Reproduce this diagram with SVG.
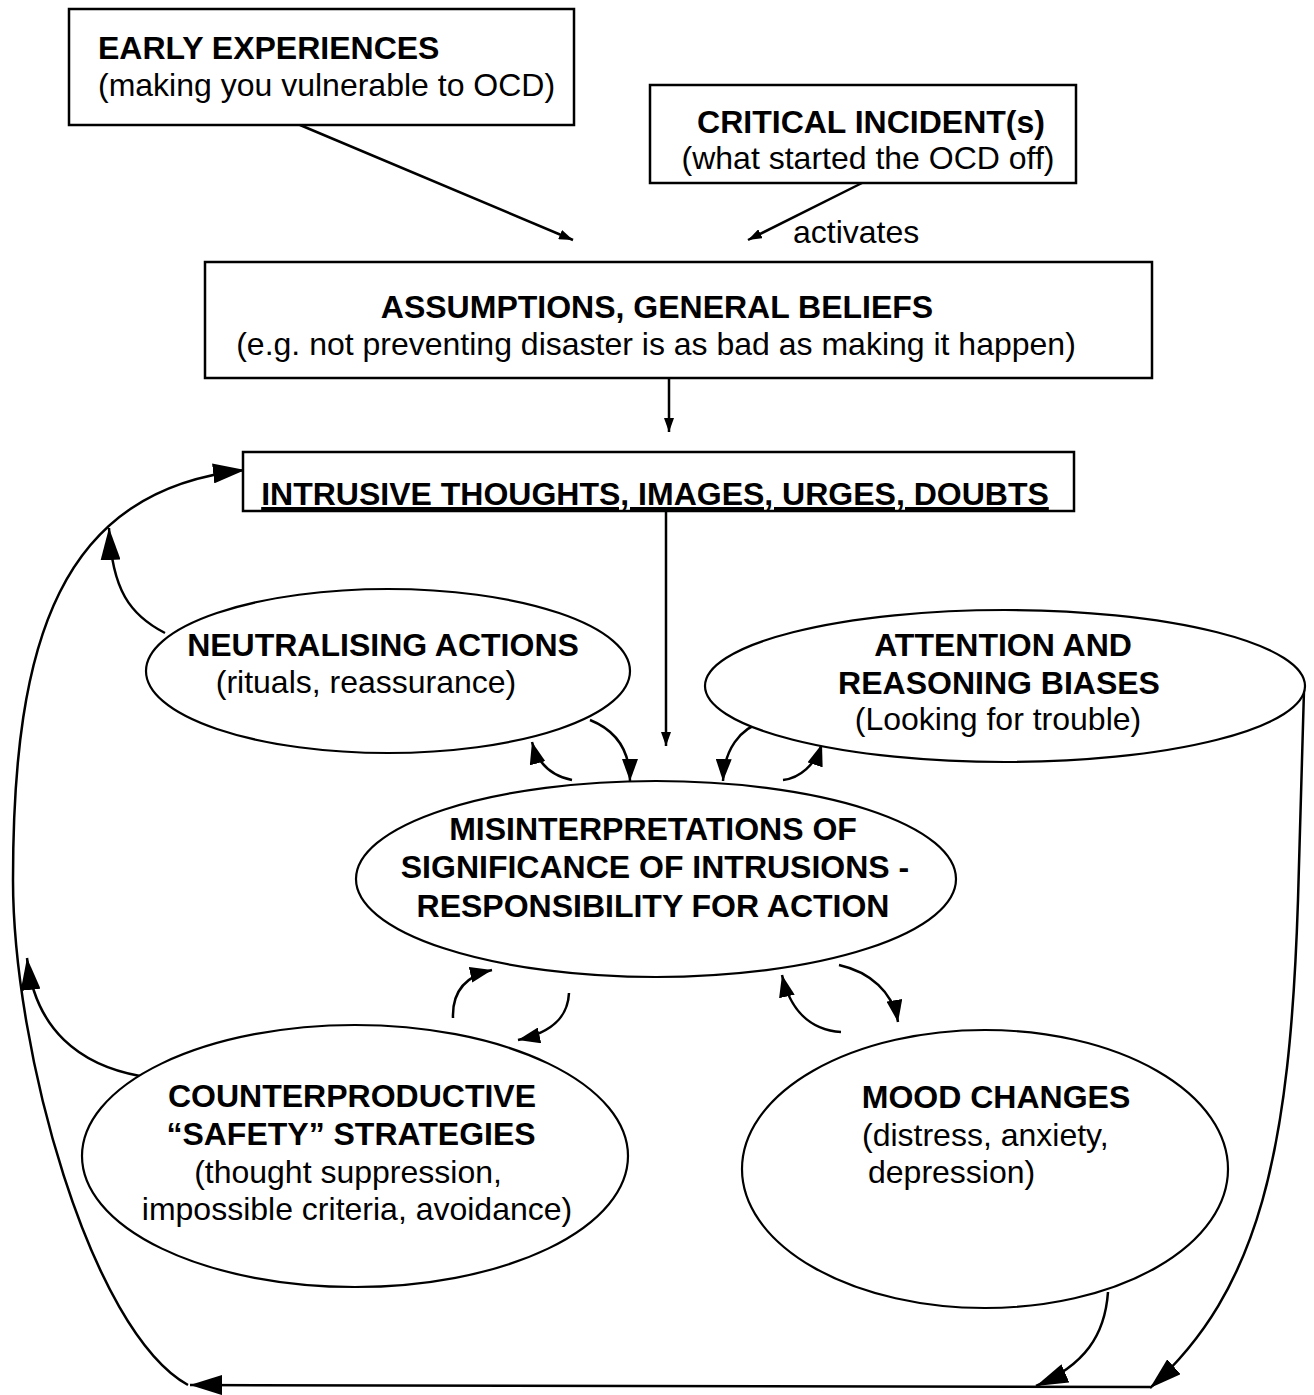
<svg xmlns="http://www.w3.org/2000/svg" width="1314" height="1395" viewBox="0 0 1314 1395">
<style>
text{font-family:"Liberation Sans",Arial,sans-serif;font-size:32px;fill:#000}
.b{font-weight:bold}
.c{text-anchor:middle}
.box{fill:#fff;stroke:#000;stroke-width:2.5}
.ell{fill:#fff;stroke:#000;stroke-width:2.2}
.con{fill:none;stroke:#000;stroke-width:2.5}
</style>
<defs>
<marker id="s" viewBox="0 0 14 10" refX="14" refY="5" markerWidth="14" markerHeight="10" orient="auto" markerUnits="userSpaceOnUse"><path d="M0,0 L14,5 L0,10 z"/></marker>
<marker id="m" viewBox="0 0 22 16" refX="22" refY="8" markerWidth="22" markerHeight="16" orient="auto" markerUnits="userSpaceOnUse"><path d="M0,0 L22,8 L0,16 z"/></marker>
<marker id="l" viewBox="0 0 32 20" refX="32" refY="10" markerWidth="32" markerHeight="20" orient="auto" markerUnits="userSpaceOnUse"><path d="M0,0 L32,10 L0,20 z"/></marker>
</defs>
<rect width="1314" height="1395" fill="#fff"/>
<g id="connectors">
<path class="con" d="M300 125 L573 240" marker-end="url(#s)"/>
<path class="con" d="M862 183 L748 240" marker-end="url(#s)"/>
<path class="con" d="M669 378 L669 432" marker-end="url(#s)"/>
<path class="con" d="M666 511 L666 746" marker-end="url(#s)"/>
<path class="con" d="M188 1385 C 90 1330, 13 1050, 13 880 C 13 640, 60 490, 245 470" marker-end="url(#l)"/>
<path class="con" d="M165 633 C 130 615, 112 590, 109 528" marker-end="url(#l)"/>
<path class="con" d="M140 1076 C 80 1065, 35 1030, 27 958" marker-end="url(#l)"/>
<path class="con" d="M1150 1387 L190 1385" marker-end="url(#l)" stroke-width="3.5"/>
<path class="con" d="M1304 690 L1298 900 C 1290 1150, 1260 1290, 1150 1388" marker-end="url(#l)"/>
<path class="con" d="M1108 1292 C 1105 1335, 1085 1365, 1036 1386" marker-end="url(#l)"/>
<path class="con" d="M572 780 C 552 776, 538 765, 532 742" marker-end="url(#m)"/>
<path class="con" d="M590 720 C 615 730, 630 750, 630 781" marker-end="url(#m)"/>
<path class="con" d="M763 722 C 740 728, 724 750, 723 781" marker-end="url(#m)"/>
<path class="con" d="M783 780 C 800 778, 815 765, 822 744" marker-end="url(#m)"/>
<path class="con" d="M453 1018 C 452 992, 465 976, 492 970" marker-end="url(#m)"/>
<path class="con" d="M569 993 C 568 1015, 555 1032, 518 1040" marker-end="url(#m)"/>
<path class="con" d="M841 1032 C 810 1030, 790 1010, 782 975" marker-end="url(#m)"/>
<path class="con" d="M839 965 C 870 972, 893 992, 898 1022" marker-end="url(#m)"/>
</g>
<g id="early">
<rect class="box" x="69" y="9" width="505" height="116"/>
<text class="b" x="98" y="59">EARLY EXPERIENCES</text>
<text x="98" y="96">(making you vulnerable to OCD)</text>
</g>
<g id="critical">
<rect class="box" x="650" y="85" width="426" height="98"/>
<text class="b c" x="871" y="133">CRITICAL INCIDENT(s)</text>
<text class="c" x="868" y="169">(what started the OCD off)</text>
</g>
<text x="793" y="243">activates</text>
<g id="assumptions">
<rect class="box" x="205" y="262" width="947" height="116"/>
<text class="b c" x="657" y="318">ASSUMPTIONS, GENERAL BELIEFS</text>
<text class="c" x="656" y="355">(e.g. not preventing disaster is as bad as making it happen)</text>
</g>
<g id="intrusive">
<rect class="box" x="243" y="452" width="831" height="59"/>
<text class="b c" x="655" y="505" style="text-decoration:underline">INTRUSIVE THOUGHTS, IMAGES, URGES, DOUBTS</text>
</g>
<g id="neutralising">
<ellipse class="ell" cx="388" cy="671" rx="242" ry="82"/>
<text class="b c" x="383" y="656">NEUTRALISING ACTIONS</text>
<text class="c" x="366" y="693">(rituals, reassurance)</text>
</g>
<g id="attention">
<ellipse class="ell" cx="1005" cy="686" rx="300" ry="76"/>
<text class="b c" x="1003" y="656">ATTENTION AND</text>
<text class="b c" x="999" y="694">REASONING BIASES</text>
<text class="c" x="998" y="730">(Looking for trouble)</text>
</g>
<g id="misinterpretations">
<ellipse class="ell" cx="656" cy="879" rx="300" ry="98"/>
<text class="b c" x="653" y="840">MISINTERPRETATIONS OF</text>
<text class="b c" x="655" y="878">SIGNIFICANCE OF INTRUSIONS -</text>
<text class="b c" x="653" y="917">RESPONSIBILITY FOR ACTION</text>
</g>
<g id="counterproductive">
<ellipse class="ell" cx="355" cy="1156" rx="273" ry="131"/>
<text class="b c" x="352" y="1107">COUNTERPRODUCTIVE</text>
<text class="b c" x="351" y="1145">“SAFETY” STRATEGIES</text>
<text class="c" x="348" y="1183">(thought suppression,</text>
<text class="c" x="357" y="1220">impossible criteria, avoidance)</text>
</g>
<g id="mood">
<ellipse class="ell" cx="985" cy="1169" rx="243" ry="139"/>
<text class="b c" x="996" y="1108">MOOD CHANGES</text>
<text x="862" y="1146">(distress, anxiety,</text>
<text x="868" y="1183">depression)</text>
</g>
</svg>
